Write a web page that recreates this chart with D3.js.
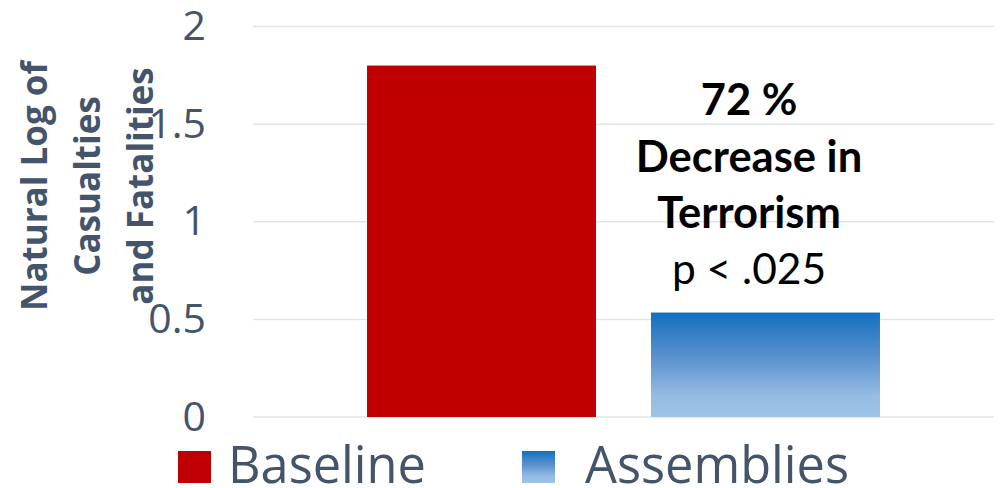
<!DOCTYPE html>
<html>
<head>
<meta charset="utf-8">
<script src="https://cdn.jsdelivr.net/npm/d3@7.9.0/dist/d3.min.js"></script>
<style>
  body { margin: 0; background: #fff; }
  svg { display: block; }
</style>
</head>
<body>
<svg id="chart"></svg>
<script>
let series = ['Baseline', 'Assemblies'];
let values = [1.8, 0.535];
let yTicks = [0, 0.5, 1, 1.5, 2];
let titleLines = ['Natural Log of', 'Casualties', 'and Fatalities'];
let noteBold = ['72 %', 'Decrease in', 'Terrorism'];
let notePlain = 'p < .025';

let svg = d3.select('#chart').attr('width', 1000).attr('height', 488);
let textColor = '#44546A';
let plotLeft = 253, plotRight = 994, plotTop = 26.5, plotBottom = 417;

let defs = svg.append('defs');
let grad = defs.append('linearGradient')
  .attr('id', 'blueGrad')
  .attr('x1', 0).attr('y1', 0).attr('x2', 0).attr('y2', 1);
grad.append('stop').attr('offset', '0%').attr('stop-color', '#1170C0');
grad.append('stop').attr('offset', '45%').attr('stop-color', '#5E93CF');
grad.append('stop').attr('offset', '80%').attr('stop-color', '#95BDE3');
grad.append('stop').attr('offset', '100%').attr('stop-color', '#9DC3E6');

let fills = ['#C00000', 'url(#blueGrad)'];

let x = d3.scaleBand()
  .domain(series)
  .range([plotLeft, plotRight])
  .paddingInner(0.1937)
  .paddingOuter(0.4015);

let y = d3.scaleLinear()
  .domain([0, 2])
  .range([plotBottom, plotTop]);

// gridlines
svg.append('g')
  .selectAll('line')
  .data(yTicks)
  .join('line')
  .attr('x1', plotLeft)
  .attr('x2', plotRight)
  .attr('y1', d => y(d))
  .attr('y2', d => y(d))
  .attr('stroke', '#E1E5EB')
  .attr('stroke-width', 1.5);

// y axis labels
let yAxis = svg.append('g')
  .attr('transform', `translate(206,0)`)
  .call(d3.axisLeft(y).tickValues(yTicks).tickSize(0).tickPadding(0).tickFormat(d3.format('')));
yAxis.select('.domain').remove();
yAxis.selectAll('text')
  .attr('fill', textColor)
  .style('font-family', '"Open Sans", sans-serif')
  .style('font-size', '41px');

// bars
svg.append('g')
  .selectAll('rect')
  .data(values)
  .join('rect')
  .attr('x', (d, i) => x(series[i]))
  .attr('y', d => y(d))
  .attr('width', x.bandwidth())
  .attr('height', d => y(0) - y(d))
  .attr('fill', (d, i) => fills[i]);

// axis title
let title = svg.append('text')
  .attr('transform', 'translate(88,186) rotate(-90)')
  .attr('text-anchor', 'middle')
  .attr('fill', textColor)
  .style('font-family', '"Open Sans", sans-serif')
  .style('font-weight', 'bold')
  .style('font-size', '35px');
title.selectAll('tspan')
  .data(titleLines)
  .join('tspan')
  .attr('x', 0)
  .attr('y', (d, i) => (i - 1) * 53 + 12)
  .text(d => d);

// annotation
let note = svg.append('g')
  .attr('text-anchor', 'middle')
  .style('font-family', 'Lato, "Open Sans", sans-serif')
  .attr('fill', '#000');
note.selectAll('text.b')
  .data(noteBold)
  .join('text')
  .attr('class', 'b')
  .attr('x', 749)
  .attr('y', (d, i) => 115 + i * 56.5)
  .style('font-weight', 'bold')
  .style('font-size', '43.5px')
  .text(d => d);
note.append('text')
  .attr('x', 749)
  .attr('y', 284)
  .style('font-size', '42.5px')
  .text(notePlain);

// legend
let legendX = [178, 522];
let legend = svg.append('g')
  .selectAll('g')
  .data(series)
  .join('g')
  .attr('transform', (d, i) => `translate(${legendX[i]},451)`);
legend.append('rect')
  .attr('width', 33)
  .attr('height', 32)
  .attr('fill', (d, i) => fills[i]);
legend.append('text')
  .attr('x', (d, i) => i === 0 ? 50 : 63)
  .attr('y', 32)
  .attr('fill', textColor)
  .style('font-family', '"Open Sans", sans-serif')
  .style('font-size', '50.5px')
  .text(d => d);
</script>
</body>
</html>
